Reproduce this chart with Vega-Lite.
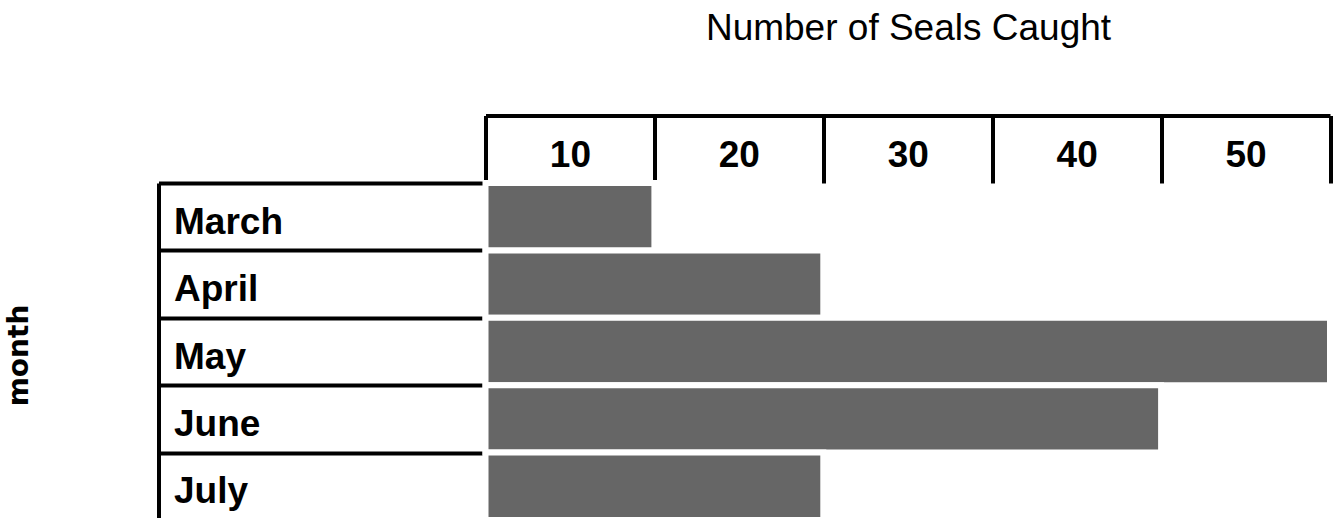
{
  "$schema": "https://vega.github.io/schema/vega-lite/v6.json",
  "autosize": "none",
  "padding": {"left": 485.5, "top": 183, "right": 4, "bottom": 0},
  "width": 844.5,
  "height": 337,
  "background": "white",
  "config": {"view": {"stroke": null}},
  "data": {
    "values": [
      {"month": "March", "seals": 10},
      {"month": "April", "seals": 20},
      {"month": "May", "seals": 50},
      {"month": "June", "seals": 40},
      {"month": "July", "seals": 20}
    ]
  },
  "mark": {"type": "bar", "color": "#666666", "stroke": "white", "strokeWidth": 6},
  "encoding": {
    "x": {
      "field": "seals",
      "type": "quantitative",
      "scale": {"domain": [0, 50], "nice": false},
      "axis": {
        "orient": "top",
        "offset": 67.5,
        "tickSize": -67.5,
        "values": [0, 10, 20, 30, 40, 50],
        "labelExpr": "datum.value == 0 ? '' : datum.label",
        "labelOffset": -84.45,
        "labelAlign": "center",
        "labelBaseline": "alphabetic",
        "labelPadding": 16.3,
        "labelFlush": false,
        "labelOverlap": false,
        "labelFont": "Liberation Sans",
        "labelFontWeight": "bold",
        "labelFontSize": 37,
        "labelColor": "black",
        "domainColor": "black",
        "domainWidth": 4,
        "tickColor": "black",
        "tickWidth": 4,
        "grid": false,
        "title": "Number of Seals Caught",
        "titleFont": "Liberation Sans",
        "titleFontWeight": "normal",
        "titleFontSize": 37,
        "titleColor": "black",
        "titleX": 422.5,
        "titleY": -76,
        "titleAlign": "center",
        "titleBaseline": "alphabetic"
      }
    },
    "y": {
      "field": "month",
      "type": "nominal",
      "sort": ["March", "April", "May", "June", "July"],
      "scale": {"paddingInner": 0, "paddingOuter": 0},
      "axis": {
        "orient": "left",
        "offset": 327,
        "tickSize": -327,
        "tickBand": "extent",
        "labelAlign": "left",
        "labelBaseline": "alphabetic",
        "labelOffset": 16.6,
        "labelPadding": 312,
        "labelFont": "Liberation Sans",
        "labelFontWeight": "bold",
        "labelFontSize": 37,
        "labelColor": "black",
        "domainColor": "black",
        "domainWidth": 4,
        "tickColor": "black",
        "tickWidth": 4,
        "grid": false,
        "title": "month",
        "titleFont": "DejaVu Sans",
        "titleFontWeight": "bold",
        "titleFontSize": 28,
        "titleColor": "black",
        "titleAngle": 270,
        "titleX": -131.5,
        "titleY": 172,
        "titleAlign": "center",
        "titleBaseline": "alphabetic"
      }
    }
  }
}
